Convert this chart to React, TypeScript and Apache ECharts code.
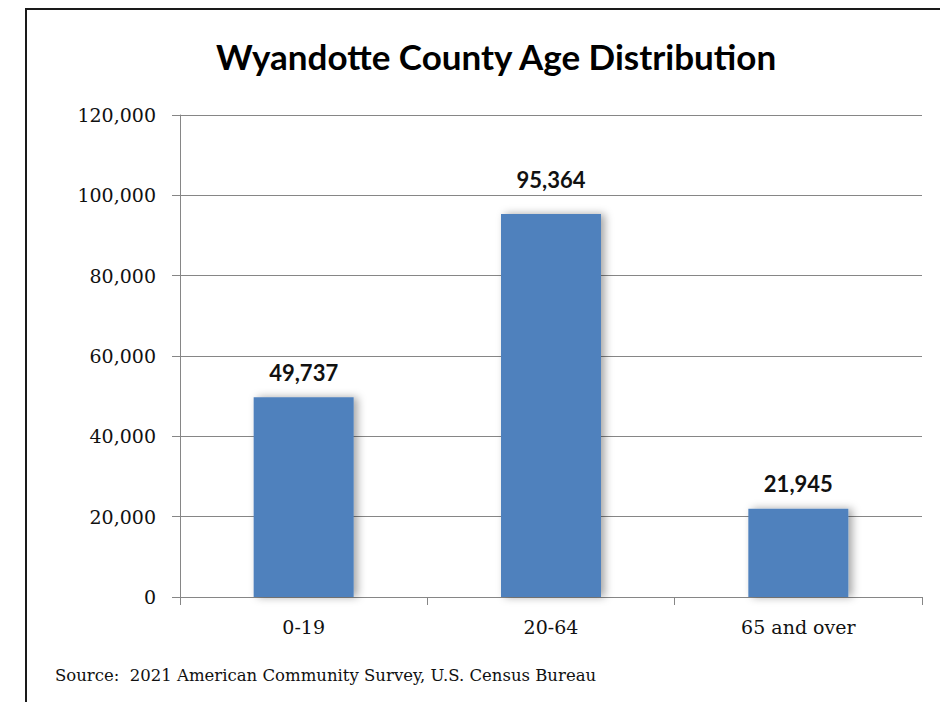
import React, { useEffect, useRef } from "react";
import * as echarts from "echarts";

const TITLE = "Wyandotte County Age Distribution";
const SOURCE = "Source:  2021 American Community Survey, U.S. Census Bureau";
const categories = ["0-19", "20-64", "65 and over"];
const population = [49737, 95364, 21945];
const labelDistances = [14, 23, 14];
const yTicks = { min: 0, max: 120000, interval: 20000 };

const fmt = (v: number) => v.toLocaleString("en-US");

export default function App() {
  const ref = useRef<HTMLDivElement>(null);
  useEffect(() => {
    if (!ref.current) return;
    const chart = echarts.init(ref.current, undefined, { renderer: "svg" });
    chart.setOption({
      animation: false,
      backgroundColor: "#ffffff",
      grid: { left: 180, right: 18, top: 115, bottom: 105 },
      xAxis: {
        type: "category",
        data: categories,
        axisLine: { show: true, lineStyle: { color: "#868686", width: 1 } },
        axisTick: { show: true, alignWithLabel: false, length: 8, lineStyle: { color: "#868686" } },
        axisLabel: {
          fontFamily: "DejaVu Serif",
          fontSize: 19,
          color: "#111",
          margin: 20,
        },
      },
      yAxis: {
        type: "value",
        min: yTicks.min,
        max: yTicks.max,
        interval: yTicks.interval,
        axisLine: { show: true, lineStyle: { color: "#868686", width: 1 } },
        axisTick: { show: true, inside: false, length: 8, lineStyle: { color: "#868686" } },
        splitLine: { show: true, lineStyle: { color: "#868686", width: 1 } },
        axisLabel: {
          fontFamily: "DejaVu Serif",
          fontSize: 19,
          color: "#111",
          margin: 24,
          formatter: (v: number) => fmt(v),
        },
      },
      series: [
        {
          type: "bar",
          barWidth: 100,
          data: population.map((v, i) => ({
            value: v,
            label: { distance: labelDistances[i] },
          })),
          itemStyle: {
            color: "#4F81BD",
            shadowColor: "rgba(0,0,0,0.35)",
            shadowBlur: 8,
            shadowOffsetX: 4,
            shadowOffsetY: 0,
          },
          label: {
            show: true,
            position: "top",
            fontFamily: "Lato",
            fontWeight: "bold",
            fontSize: 22,
            color: "#111",
            formatter: (p: any) => fmt(p.value),
          },
        },
      ],
      graphic: [
        {
          type: "rect",
          shape: { x: 26, y: 9, width: 1000, height: 1000 },
          style: { fill: "none", stroke: "#1a1a1a", lineWidth: 2 },
          silent: true,
        },
        {
          type: "text",
          x: 496,
          y: 56,
          style: {
            text: TITLE,
            fontFamily: "Lato",
            fontWeight: "bold",
            fontSize: 35,
            fill: "#000",
            textAlign: "center",
            textVerticalAlign: "middle",
          },
        },
        {
          type: "text",
          x: 55,
          y: 675,
          style: {
            text: SOURCE,
            fontFamily: "DejaVu Serif",
            fontSize: 16.5,
            fill: "#111",
            textAlign: "left",
            textVerticalAlign: "middle",
          },
        },
      ],
    });
    return () => chart.dispose();
  }, []);
  return (
    <div
      ref={ref}
      style={{ position: "fixed", left: 0, top: 0, width: 940, height: 702 }}
    />
  );
}
